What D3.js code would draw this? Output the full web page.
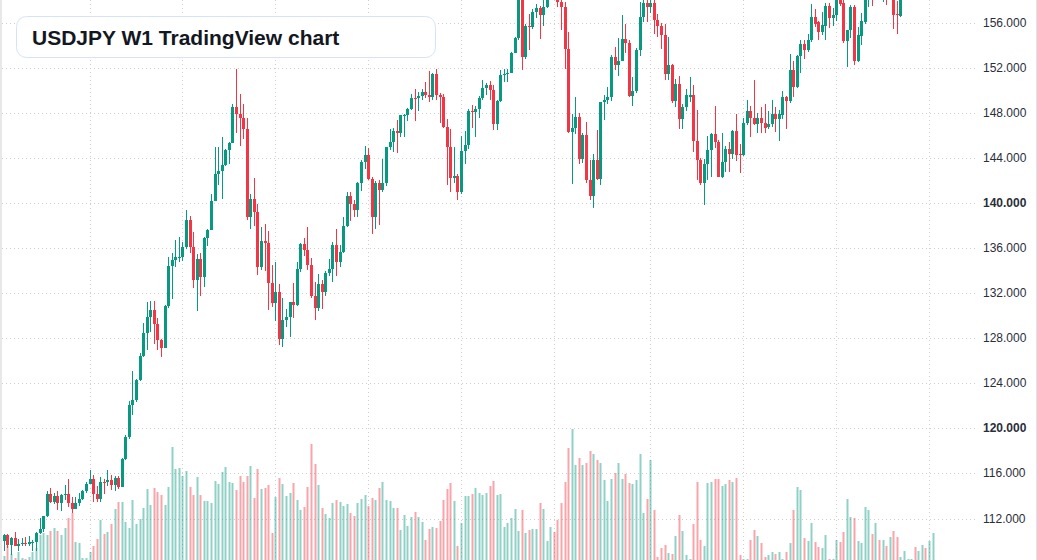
<!DOCTYPE html>
<html>
<head>
<meta charset="utf-8">
<script src="https://cdn.jsdelivr.net/npm/d3@7"></script>
<style>
  body { margin: 0; background: #fff; }
  svg { display: block; font-family: "Liberation Sans", Arial, sans-serif; }
</style>
</head>
<body>
<div id="chart"></div>
<script>
// weekly USDJPY bars, first bar = week of 2021-07-19
var opens = [110.00,110.55,109.69,110.25,109.58,109.78,109.83,109.71,109.93,109.95,110.75,111.05,112.20,114.20,113.50,114.00,113.40,114.10,114.15,113.40,112.80,113.40,113.70,114.40,
  115.10,115.55,114.20,113.70,115.25,115.20,115.40,115.00,115.60,114.80,117.30,119.20,122.05,122.50,124.30,126.40,128.50,129.90,130.55,129.25,127.85,127.10,130.85,134.40,134.95,135.20,
  135.25,136.10,138.55,136.10,133.20,135.00,133.45,136.90,137.60,140.20,142.60,142.90,143.35,144.70,145.30,148.50,147.95,147.55,146.60,138.75,140.35,139.20,134.30,136.60,136.45,132.90,
  131.10,132.10,127.90,129.60,129.85,131.20,131.00,134.15,136.35,135.85,134.50,131.80,130.70,132.80,132.10,133.80,134.15,136.30,134.80,135.70,137.95,140.60,139.90,139.40,141.80,143.70,
  144.30,142.15,138.80,141.80,141.20,141.80,144.95,145.40,146.40,146.20,147.80,147.85,148.35,149.35,149.30,149.55,149.85,149.65,149.40,151.50,149.60,149.45,146.80,144.95,142.20,142.40,
  141.00,144.60,145.15,148.15,148.10,148.40,149.30,150.20,150.50,150.05,147.05,149.05,151.40,151.45,151.60,153.30,154.65,158.30,152.95,155.75,155.65,157.00,157.30,156.70,157.40,159.80,
  160.90,160.75,157.90,157.45,153.70,146.30,146.65,147.65,143.90,146.05,142.05,140.65,143.85,142.15,148.95,149.15,149.45,153.00,152.30,152.65,154.55,154.20,149.50,149.95,153.60,156.55,157.75,
  157.40,157.75,156.25,155.75,154.95,151.45,152.30,149.10,150.60,147.50,148.50,149.45,149.60,145.50,143.85,141.80,143.50,144.75,146.10,145.40,142.35,143.70,144.80,144.35,146.40,144.35,
  144.30,147.15,148.15,147.55,147.05,147.60,147.15,146.75,147.00,147.90,147.50,147.85,149.45,149.05,151.80,150.30,153.05,154.15,153.60,154.45,156.50,156.05,155.20,155.75,157.50,156.40,
  156.70,158.60,157.80,154.40,155.35,157.40,152.65,154.85,156.10,158.30,158.90,158.50,159.00,158.60,158.90,158.30,158.80,156.80,156.60,
  158.50,159.10,159.30,159.50,159.00,159.40,159.90,159.40,160.10];
var highs = [110.60,110.59,110.37,110.80,110.20,110.25,110.40,110.45,110.10,110.80,112.07,112.25,114.47,114.70,114.30,114.40,114.20,114.97,115.52,113.95,113.95,114.25,114.50,115.20,
  116.35,115.85,114.90,115.68,115.50,116.34,115.90,115.76,115.80,117.35,119.40,122.45,125.10,124.40,126.70,129.40,131.25,131.35,131.35,129.80,127.95,131.00,135.20,135.60,136.70,137.00,
  136.55,139.40,138.90,137.45,135.50,135.60,137.00,137.70,140.80,144.99,144.96,145.90,144.85,145.40,148.85,151.95,149.70,148.85,147.60,140.80,142.25,139.90,137.85,138.15,137.50,134.50,
  134.75,132.85,131.60,130.60,131.25,132.90,134.75,136.50,136.90,137.90,135.10,133.00,133.75,133.20,134.00,135.00,136.55,137.75,136.30,138.75,140.95,140.95,140.25,141.90,143.85,145.05,
  144.90,142.30,142.00,142.05,143.90,145.00,146.55,146.65,147.35,147.85,147.95,148.45,149.70,150.15,149.85,150.10,150.75,151.70,151.60,151.90,149.75,149.70,147.45,146.60,144.95,142.60,
  145.95,146.40,148.35,148.70,148.60,149.55,150.90,150.70,150.85,150.50,149.20,151.85,151.95,151.90,153.40,154.80,158.45,160.20,155.95,156.80,157.20,157.70,157.50,158.30,159.90,161.30,
  161.95,161.80,158.85,157.85,155.20,147.90,149.40,148.05,146.20,147.20,143.80,144.40,146.50,149.00,149.60,150.30,153.20,153.90,154.70,156.75,155.90,154.50,151.20,153.80,157.90,158.10,158.00,
  158.90,158.90,156.80,156.00,155.90,154.80,152.35,151.05,151.30,148.85,150.15,151.20,150.50,148.25,144.05,143.90,145.95,146.20,148.60,145.60,146.25,145.05,145.40,146.50,147.95,145.25,
  147.60,149.15,148.60,150.90,148.05,148.55,148.80,148.20,149.15,148.50,148.25,149.95,149.50,153.25,152.60,153.15,154.50,154.50,155.00,157.70,157.25,156.20,157.00,157.75,157.75,157.30,
  158.50,158.90,158.20,155.40,157.60,157.60,155.65,156.90,158.60,159.20,159.30,159.40,159.30,159.20,159.30,159.00,159.20,157.95,158.70,
  159.30,159.60,159.80,159.90,159.70,160.20,160.30,160.40,160.90];
var lows = [109.07,109.36,108.72,109.55,109.10,109.60,109.60,109.60,109.10,109.10,110.60,110.80,112.10,113.40,113.25,112.73,112.70,113.60,113.05,112.53,112.80,113.10,113.60,114.30,
  115.06,113.48,113.47,113.47,114.15,114.90,114.55,114.40,114.65,114.80,117.20,119.10,121.20,122.35,124.20,126.30,126.95,128.60,127.50,126.95,126.35,127.10,130.70,131.50,134.30,134.75,
  134.90,135.90,135.55,132.50,130.40,131.75,132.55,136.20,137.60,140.20,141.65,140.35,143.30,143.50,145.30,146.20,145.10,145.70,138.50,137.70,138.00,133.60,134.10,134.00,130.55,130.80,
  129.50,127.45,127.20,129.00,128.10,129.80,130.90,133.90,135.30,134.10,131.55,129.65,130.40,130.60,131.80,133.50,133.00,133.50,134.30,135.60,137.90,138.45,138.80,138.80,141.10,143.05,
  142.05,137.25,137.70,138.05,141.00,141.50,144.75,144.55,144.45,145.90,145.90,147.30,148.30,147.30,148.20,149.15,149.30,149.00,149.20,149.20,147.15,146.65,141.60,140.95,141.80,140.25,
  140.80,143.45,144.85,146.65,145.90,147.60,149.15,149.65,149.20,146.50,146.50,148.95,150.80,150.80,151.55,153.30,154.50,151.85,152.80,153.60,155.50,156.40,154.55,155.70,157.30,159.30,
  160.25,157.40,155.40,151.90,146.20,141.70,146.10,143.45,143.55,141.75,140.30,139.58,142.05,141.65,147.40,148.80,149.10,151.80,151.30,152.60,153.30,149.45,148.65,149.75,153.10,156.10,156.05,
  156.90,155.00,154.80,153.70,150.93,150.93,148.90,148.55,146.55,146.60,148.20,148.95,144.55,142.05,141.60,139.88,142.05,142.35,144.90,142.30,142.20,142.80,142.80,143.90,143.75,142.70,
  144.20,146.90,145.90,146.90,146.25,146.25,146.25,146.60,146.80,146.35,145.55,147.45,146.60,148.90,149.45,150.20,151.60,152.80,153.45,154.35,155.65,154.45,154.95,154.45,155.60,155.75,
  156.20,157.50,154.25,152.10,154.65,152.25,152.50,154.05,155.90,157.40,157.50,158.10,158.10,157.90,157.60,158.10,155.45,155.00,156.50,
  158.20,158.60,158.90,158.70,158.70,159.10,159.00,159.10,159.80];
var closes = [110.55,109.69,110.25,109.58,109.78,109.83,109.71,109.93,109.95,110.75,111.05,112.20,114.20,113.50,114.00,113.40,114.10,114.15,113.40,112.80,113.40,113.70,114.40,115.10,
  115.55,114.20,113.70,115.25,115.20,115.40,115.00,115.60,114.80,117.30,119.20,122.05,122.50,124.30,126.40,128.50,129.90,130.55,129.25,127.85,127.10,130.85,134.40,134.95,135.20,135.25,
  136.10,138.55,136.10,133.20,135.00,133.45,136.90,137.60,140.20,142.60,142.90,143.35,144.70,145.30,148.50,147.95,147.55,146.60,138.75,140.35,139.20,134.30,136.60,136.45,132.90,131.10,
  132.10,127.90,129.60,129.85,131.20,131.00,134.15,136.35,135.85,134.50,131.80,130.70,132.80,132.10,133.80,134.15,136.30,134.80,135.70,137.95,140.60,139.90,139.40,141.80,143.70,144.30,
  142.15,138.80,141.80,141.20,141.80,144.95,145.40,146.40,146.20,147.80,147.85,148.35,149.35,149.30,149.55,149.85,149.65,149.40,151.50,149.60,149.45,146.80,144.95,142.20,142.40,141.00,
  144.60,145.15,148.15,148.10,148.40,149.30,150.20,150.50,150.05,147.05,149.05,151.40,151.45,151.60,153.30,154.65,158.30,152.95,155.75,155.65,157.00,157.30,156.70,157.40,159.80,160.90,
  160.75,157.90,157.45,153.70,146.30,146.65,147.65,143.90,146.05,142.05,140.65,143.85,142.15,148.95,149.15,149.45,153.00,152.30,152.65,154.55,154.20,149.50,149.95,153.60,156.55,157.75,157.40,
  157.75,156.25,155.75,154.95,151.45,152.30,149.10,150.60,147.50,148.50,149.60,149.60,145.50,143.85,141.80,143.50,144.75,146.10,145.40,142.35,143.70,144.80,144.35,146.40,144.30,144.30,
  147.15,148.15,147.55,147.05,147.60,147.15,146.70,147.00,147.90,147.50,147.90,149.45,149.10,151.80,150.30,153.05,154.15,153.60,154.50,156.50,155.95,155.20,155.80,157.50,156.40,156.70,
  158.20,157.70,154.40,155.35,157.40,152.65,154.95,156.20,158.30,158.90,158.50,159.00,158.60,158.90,158.30,158.80,156.70,156.70,158.50,
  159.10,159.30,159.50,159.00,159.40,159.90,159.40,160.10,160.60];
var volumes = [4,14,6,2,8,2,1,3,8,12,25,27,25,29,32,29,25,32,42,47,18,17,2,2,
  8,14,21,40,26,28,36,51,58,58,38,32,60,36,41,52,71,55,72,68,65,55,73,113,91,92,
  84,89,73,65,83,65,59,59,57,79,76,88,93,78,77,70,84,78,84,94,62,91,71,72,75,27,
  63,82,76,64,67,77,60,50,53,73,116,96,75,52,46,42,57,60,58,54,56,47,44,57,61,65,
  54,62,60,72,78,60,59,52,52,30,45,34,43,48,43,38,20,31,33,32,39,60,71,77,59,14,
  37,64,64,66,72,67,65,67,74,79,65,66,33,37,42,51,29,50,27,30,31,31,57,51,19,33,
  28,40,57,78,112,131,95,102,95,97,109,106,100,97,80,59,81,87,97,81,86,77,76,80,106,47,61,
  100,50,3,12,15,7,6,24,45,29,5,1,36,78,20,14,77,78,81,81,74,76,80,78,82,5,
  1,1,20,30,24,17,3,5,8,6,8,1,8,17,50,73,70,22,19,37,18,13,12,25,1,1,
  20,18,28,61,43,42,19,17,53,50,26,37,20,20,14,23,29,23,3,
  9,1,1,13,9,15,12,19,27];

var priceTicks = d3.range(112, 157, 4);
var boldTicks = [120, 140];
var firstWeek = new Date(Date.UTC(2021, 6, 19));

var width = 1037, height = 560, plotRight = 975;
var upColor = "#089981", downColor = "#f23645";

var bars = closes.map(function(c, i) {
  return { date: d3.utcDay.offset(firstWeek, 7 * i), o: opens[i], h: highs[i], l: lows[i], c: c, v: volumes[i] };
});

// gridline at first bar of January and July
var gridBars = bars.filter(function(d, i) {
  if (i === 0) return false;
  var m = d.date.getUTCMonth();
  return (m === 0 || m === 6) && bars[i - 1].date.getUTCMonth() !== m;
});

var x = d3.scaleUtc()
  .domain([bars[0].date, bars[bars.length - 1].date])
  .range([4.3, 4.3 + (bars.length - 1) * 3.572]);
var y = d3.scaleLinear().domain([112, 156]).range([518.5, 23]);
var yVol = d3.scaleLinear().domain([0, d3.max(volumes)]).range([height, height - 131]);

var svg = d3.select("#chart").append("svg")
  .attr("width", width)
  .attr("height", height);

svg.append("rect").attr("width", width).attr("height", height).attr("fill", "#fff");

svg.append("clipPath").attr("id", "plot")
  .append("rect").attr("x", 0).attr("y", 0).attr("width", plotRight).attr("height", height);

var plot = svg.append("g").attr("clip-path", "url(#plot)");

// dotted grid
plot.selectAll(".hgrid").data(priceTicks).enter().append("line")
  .attr("x1", 2).attr("x2", plotRight)
  .attr("y1", function(d) { return Math.round(y(d)) + 0.5; })
  .attr("y2", function(d) { return Math.round(y(d)) + 0.5; })
  .attr("stroke", "#cfcfcf").attr("stroke-dasharray", "1,3");

plot.selectAll(".vgrid").data(gridBars).enter().append("line")
  .attr("x1", function(d) { return Math.floor(x(d.date)) + 0.5; })
  .attr("x2", function(d) { return Math.floor(x(d.date)) + 0.5; })
  .attr("y1", 0).attr("y2", height)
  .attr("stroke", "#cfcfcf").attr("stroke-dasharray", "1,3");

// volume
plot.selectAll(".vol").data(bars).enter().append("rect")
  .attr("x", function(d) { return Math.floor(x(d.date)) - 0.5; })
  .attr("width", 2)
  .attr("y", function(d) { return yVol(d.v); })
  .attr("height", function(d) { return height - yVol(d.v); })
  .attr("fill", function(d) { return d.c >= d.o ? upColor : downColor; })
  .attr("fill-opacity", 0.45);

// candles
var candle = plot.selectAll(".candle").data(bars).enter().append("g")
  .attr("fill", function(d) { return d.c >= d.o ? upColor : downColor; })
  .attr("shape-rendering", "crispEdges");

candle.append("rect")
  .attr("x", function(d) { return Math.floor(x(d.date)); })
  .attr("width", 1)
  .attr("y", function(d) { return Math.round(y(d.h)); })
  .attr("height", function(d) { return Math.max(1, Math.round(y(d.l)) - Math.round(y(d.h))); });

candle.append("rect")
  .attr("x", function(d) { return Math.floor(x(d.date)) - 1; })
  .attr("width", 3)
  .attr("y", function(d) { return Math.round(y(Math.max(d.o, d.c))); })
  .attr("height", function(d) { return Math.max(1, Math.round(y(Math.min(d.o, d.c))) - Math.round(y(Math.max(d.o, d.c)))); });

// price scale
svg.selectAll(".tick").data(priceTicks).enter().append("text")
  .attr("x", 983)
  .attr("y", function(d) { return y(d) + 4; })
  .attr("font-size", "12px")
  .attr("font-weight", function(d) { return boldTicks.indexOf(d) >= 0 ? "bold" : "normal"; })
  .attr("fill", "#2a2e39")
  .text(function(d) { return d3.format(".3f")(d); });

// borders
svg.append("rect").attr("x", 0).attr("y", 0).attr("width", 2).attr("height", height).attr("fill", "#e8e8e8");
svg.append("line").attr("x1", 1036.5).attr("x2", 1036.5).attr("y1", 0).attr("y2", height)
  .attr("stroke", "#e0e3eb");

// title box
svg.append("rect")
  .attr("x", 16.5).attr("y", 16.5)
  .attr("width", 419).attr("height", 41)
  .attr("rx", 10)
  .attr("fill", "#fff")
  .attr("stroke", "#d5e3fa");

svg.append("text")
  .attr("x", 32).attr("y", 44.5)
  .attr("font-size", "21px")
  .attr("font-weight", "bold")
  .attr("fill", "#131722")
  .text("USDJPY W1 TradingView chart");
</script>
</body>
</html>
